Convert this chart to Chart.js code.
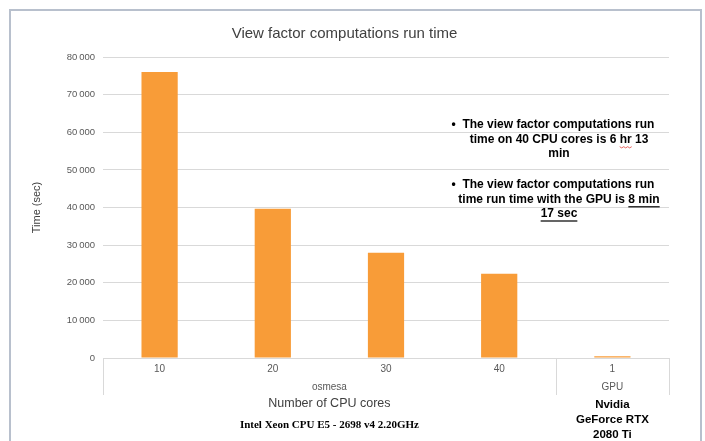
<!DOCTYPE html>
<html lang="en">
<head>
  <meta charset="UTF-8">
  <title>View factor computations run time</title>
  <script src="https://cdn.jsdelivr.net/npm/chart.js"></script>
  <style>
    html, body { margin: 0; padding: 0; background: #fff; }
  </style>
</head>
<body>
<canvas id="runChart" width="705" height="441"></canvas>

<script>
  // run time in seconds per configuration
  const coreLabels = ["10", "20", "30", "40", "1"];
  const runTimes = [76000, 39700, 28000, 22380, 497];

  // second level of the category axis: name + first/last index
  const groupNames = ["osmesa", "GPU"];
  const groupSpans = [[0, 3], [4, 4]];

  const cpuAxisLines = ["Number of CPU cores", "Intel Xeon CPU E5 - 2698 v4 2.20GHz"];
  const gpuAxisLines = ["Nvidia", "GeForce RTX", "2080 Ti"];

  // text box on the right: each line is a list of [text, style] pieces
  // style: "" plain, "u" underlined, "sq" spell-check squiggle
  const noteOne = [
    [["\u2022  The view factor computations run", ""]],
    [["time on 40 CPU cores is 6 ", ""], ["hr", "sq"], [" 13", ""]],
    [["min", ""]]
  ];
  const noteTwo = [
    [["\u2022  The view factor computations run", ""]],
    [["time run time with the GPU is ", ""], ["8 min", "u"]],
    [["17 sec", "u"]]
  ];

  const SANS = "'Liberation Sans', Arial, sans-serif";
  const SERIF = "'Liberation Serif', 'Times New Roman', serif";
  const AXIS_LINE = "#d9d9d9";

  function drawNote(ctx, lines, cx, y0, step, firstShift) {
    ctx.font = "bold 12px " + SANS;
    ctx.textBaseline = "middle";
    ctx.textAlign = "left";
    lines.forEach((pieces, i) => {
      const full = pieces.map(p => p[0]).join("");
      const w = ctx.measureText(full).width;
      let x = cx - w / 2 + (i === 0 ? firstShift : 0);
      const y = y0 + i * step;
      for (const [txt, style] of pieces) {
        const pw = ctx.measureText(txt).width;
        ctx.fillStyle = "#000";
        ctx.fillText(txt, x, y);
        if (style === "u") {
          ctx.fillRect(x, y + 7, pw, 1.2);
        } else if (style === "sq") {
          ctx.strokeStyle = "#e0403a";
          ctx.lineWidth = 0.8;
          ctx.beginPath();
          for (let k = 0; k <= pw; k += 2) {
            const yy = y + 7.5 + (k % 4 === 0 ? 0 : 1.2);
            k === 0 ? ctx.moveTo(x + k, yy) : ctx.lineTo(x + k, yy);
          }
          ctx.stroke();
        }
        x += pw;
      }
    });
  }

  const decorations = {
    id: "decorations",
    beforeDraw(chart) {
      const ctx = chart.ctx;
      ctx.save();
      ctx.fillStyle = "#fff";
      ctx.fillRect(0, 0, chart.width, chart.height);
      ctx.strokeStyle = "#b8c0cd";
      ctx.lineWidth = 2;
      ctx.strokeRect(10, 10, 691, 450);
      ctx.restore();
    },
    afterDraw(chart) {
      const ctx = chart.ctx;
      const area = chart.chartArea;
      const xs = chart.scales.x;
      const half = (xs.getPixelForValue(1) - xs.getPixelForValue(0)) / 2;
      ctx.save();

      // boxes of the two-level category axis
      const boxBottom = area.bottom + 37;
      ctx.strokeStyle = AXIS_LINE;
      ctx.lineWidth = 1;
      const edges = [area.left, xs.getPixelForValue(groupSpans[0][1]) + half, area.right];
      ctx.beginPath();
      for (const ex of edges) {
        ctx.moveTo(Math.round(ex) + 0.5, area.bottom);
        ctx.lineTo(Math.round(ex) + 0.5, boxBottom);
      }
      ctx.stroke();

      ctx.font = "10px " + SANS;
      ctx.fillStyle = "#595959";
      ctx.textAlign = "center";
      ctx.textBaseline = "middle";
      const centers = groupSpans.map(([a, b]) =>
        (xs.getPixelForValue(a) + xs.getPixelForValue(b)) / 2);
      groupNames.forEach((name, i) => ctx.fillText(name, centers[i], area.bottom + 29));

      // hardware captions under the axis
      ctx.fillStyle = "#404040";
      ctx.font = "12.5px " + SANS;
      ctx.fillText(cpuAxisLines[0], centers[0], 404);
      ctx.fillStyle = "#000";
      ctx.font = "bold 11px " + SERIF;
      ctx.fillText(cpuAxisLines[1], centers[0], 425);
      ctx.font = "bold 11.5px " + SANS;
      gpuAxisLines.forEach((t, i) => ctx.fillText(t, centers[1], 405 + i * 15));

      drawNote(ctx, noteOne, 559, 125, 14.2, -6);
      drawNote(ctx, noteTwo, 559, 185, 14.2, -6);
      ctx.restore();
    }
  };

  new Chart(document.getElementById("runChart"), {
    type: "bar",
    data: {
      labels: coreLabels,
      datasets: [{
        data: runTimes,
        backgroundColor: "#f89c38",
        barPercentage: 0.32,
        categoryPercentage: 1
      }]
    },
    options: {
      responsive: false,
      animation: false,
      devicePixelRatio: 1,
      layout: { padding: { left: 20, right: 36, top: 0, bottom: 0 } },
      plugins: {
        legend: { display: false },
        tooltip: { enabled: false },
        title: {
          display: true,
          text: "View factor computations run time",
          color: "#404040",
          font: { family: SANS, size: 15, weight: "normal" },
          padding: { top: 25, bottom: 14 }
        }
      },
      scales: {
        x: {
          grid: { display: false, drawTicks: false },
          border: { color: AXIS_LINE },
          ticks: { color: "#595959", font: { family: SANS, size: 10 }, padding: 5 },
          afterFit(s) { s.height = 83; }
        },
        y: {
          min: 0,
          max: 80000,
          grid: { color: AXIS_LINE, drawTicks: false },
          border: { display: false },
          ticks: {
            stepSize: 10000,
            padding: 8,
            color: "#595959",
            font: { family: SANS, size: 9.5 },
            callback: v => v === 0 ? "0" : (v / 1000) + "\u2009000"
          },
          title: {
            display: true,
            text: "Time (sec)",
            color: "#404040",
            font: { family: SANS, size: 11 },
            padding: { top: 10, bottom: 0 }
          },
          afterFit(s) { s.width = 83; }
        }
      }
    },
    plugins: [decorations]
  });
</script>
</body>
</html>
